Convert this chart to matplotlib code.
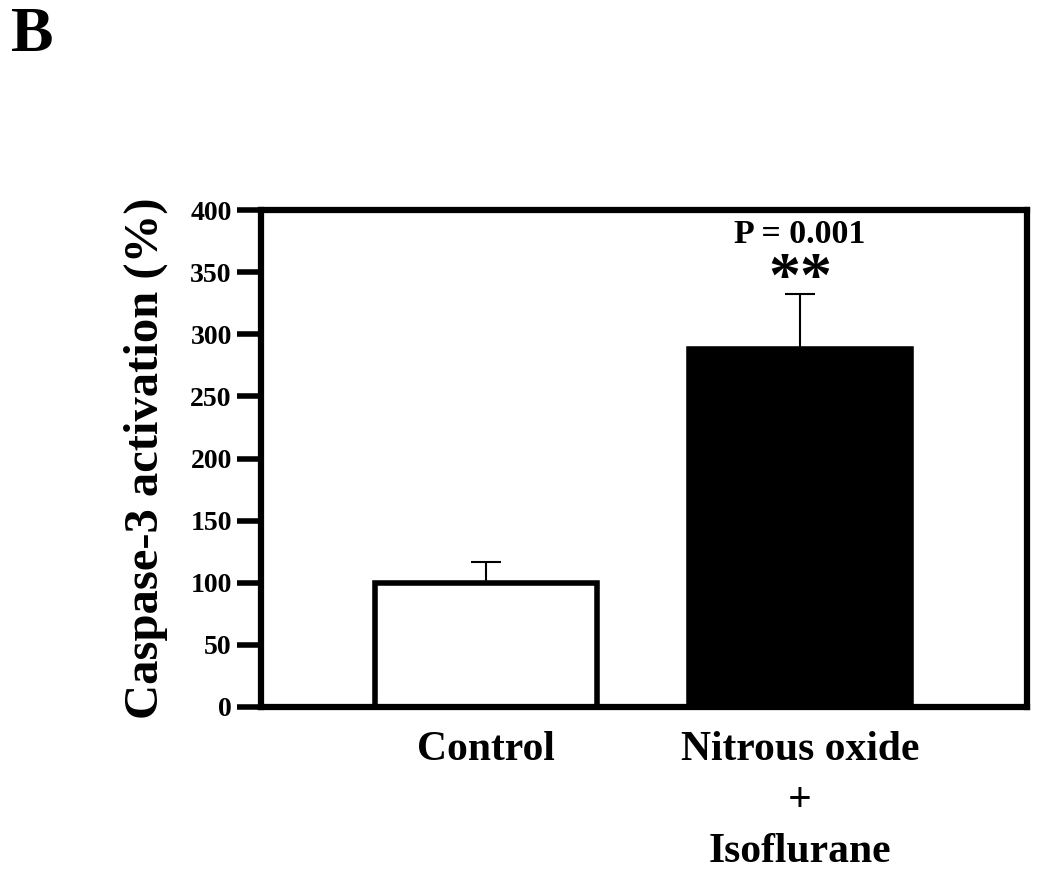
import matplotlib
matplotlib.use("Agg")
import matplotlib.pyplot as plt

groups = ["Control", "Nitrous oxide\n+\nIsoflurane"]
values = [100, 288]
errors = [17, 44]
colors = ["white", "black"]

plt.rcParams['font.family'] = ['Liberation Serif', 'DejaVu Serif']
plt.rcParams['font.weight'] = 'bold'

fig = plt.figure(figsize=(10.5, 8.84), dpi=100)
ax = fig.add_axes([261/1050, 1-707/884, (1027-261)/1050, (707-210)/884])

x = [0, 1]
ax.bar(x, values, width=0.707, color=colors, edgecolor="black", linewidth=4, zorder=2)
ax.errorbar(x, values, yerr=[[0, 0], errors], fmt="none", ecolor="black",
            elinewidth=1.5, capsize=11, capthick=1.5, zorder=1)

ax.set_xlim(-0.717, 1.723)
ax.set_ylim(0, 400)
ax.set_yticks(range(0, 401, 50))
ax.set_xticks(x)
ax.set_xticklabels(groups, fontsize=30, fontweight="bold", linespacing=1.46, va="top")
ax.tick_params(axis="x", length=0, pad=17)
ax.tick_params(axis="y", length=17, width=4, direction="out", labelsize=20, pad=4)
for lbl in ax.get_yticklabels():
    lbl.set_fontweight("bold")
for sp in ax.spines.values():
    sp.set_linewidth(4.5)

ax.set_ylabel("Caspase-3 activation (%)", fontsize=35, fontweight="bold", labelpad=16)

ax.text(1, 380, "P = 0.001", ha="center", va="center", fontsize=24.5, fontweight="bold")
ax.text(1, 343, "**", ha="center", va="center", fontsize=46, fontweight="bold")

fig.text(11/1050, 1-36/884, "B", ha="left", va="center", fontsize=46, fontweight="bold")

fig.savefig("out.png", dpi=100)
